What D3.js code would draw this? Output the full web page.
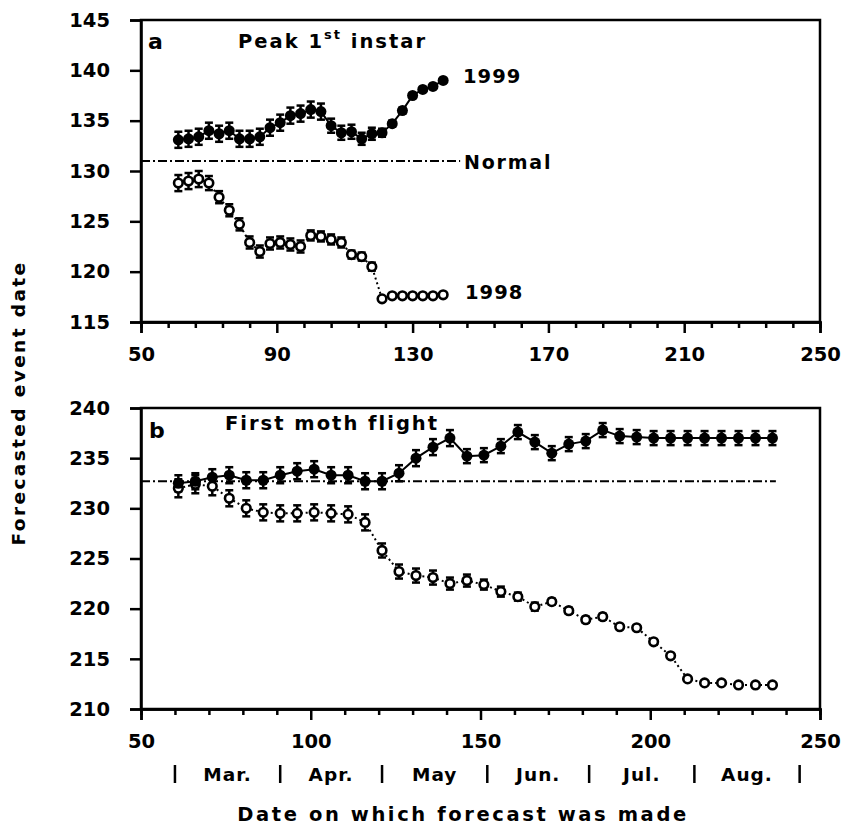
<!DOCTYPE html>
<html>
<head>
<meta charset="utf-8">
<script src="https://cdn.jsdelivr.net/npm/d3@7"></script>
<style>
  body { margin: 0; background: #fff; }
  svg text { font-family: "DejaVu Sans", sans-serif; font-weight: bold; fill: #000; }
</style>
</head>
<body>
<div id="chart"></div>
<script>

// forecast dates (day of year)
var daysA = [61, 64, 67, 70, 73, 76, 79, 82, 85, 88, 91, 94, 97, 100, 103, 106, 109, 112, 115, 118, 121, 124, 127, 130, 133, 136, 139];
var daysB = [61, 66, 71, 76, 81, 86, 91, 96, 101, 106, 111, 116, 121, 126, 131, 136, 141, 146, 151, 156, 161, 166, 171, 176, 181, 186, 191, 196, 201, 206, 211, 216, 221, 226, 231, 236];

// a: peak 1st instar
var peak1999 = [133.1, 133.2, 133.4, 134.0, 133.7, 134.0, 133.2, 133.2, 133.4, 134.3, 134.8, 135.5, 135.7, 136.1, 135.9, 134.5, 133.8, 133.9, 133.2, 133.7, 133.8, 134.7, 136.0, 137.5, 138.1, 138.4, 139.0];
var peak1999Err = [0.8, 0.8, 0.8, 0.8, 0.8, 0.8, 0.8, 0.8, 0.8, 0.8, 0.8, 0.8, 0.8, 0.8, 0.8, 0.7, 0.7, 0.7, 0.6, 0.6, 0.4, 0.3, 0.3, 0.2, 0.2, 0.2, 0.2];
var peak1998 = [128.8, 129.0, 129.2, 128.8, 127.4, 126.1, 124.7, 122.9, 122.0, 122.8, 122.9, 122.7, 122.5, 123.6, 123.5, 123.2, 122.9, 121.7, 121.5, 120.5, 117.3, 117.6, 117.6, 117.6, 117.6, 117.6, 117.7];
var peak1998Err = [0.8, 0.8, 0.8, 0.7, 0.6, 0.6, 0.6, 0.6, 0.6, 0.6, 0.6, 0.6, 0.6, 0.5, 0.5, 0.5, 0.5, 0.4, 0.4, 0.4, 0.2, 0.2, 0.2, 0.2, 0.2, 0.2, 0.2];
var peakNormal = 131.0;

// b: first moth flight
var flight1999 = [232.5, 232.7, 233.1, 233.3, 232.8, 232.8, 233.3, 233.7, 233.9, 233.3, 233.3, 232.7, 232.7, 233.5, 235.0, 236.1, 237.0, 235.2, 235.3, 236.2, 237.6, 236.6, 235.5, 236.4, 236.7, 237.8, 237.2, 237.1, 237.0, 237.0, 237.0, 237.0, 237.0, 237.0, 237.0, 237.0];
var flight1999Err = [0.8, 0.8, 0.8, 0.8, 0.8, 0.8, 0.8, 0.8, 0.8, 0.8, 0.8, 0.8, 0.8, 0.8, 0.8, 0.8, 0.8, 0.7, 0.7, 0.7, 0.7, 0.7, 0.7, 0.7, 0.7, 0.7, 0.7, 0.7, 0.7, 0.7, 0.7, 0.7, 0.7, 0.7, 0.7, 0.7];
var flight1998 = [232.0, 232.4, 232.2, 231.0, 230.0, 229.6, 229.5, 229.5, 229.6, 229.5, 229.4, 228.6, 225.8, 223.7, 223.3, 223.1, 222.5, 222.8, 222.4, 221.7, 221.2, 220.2, 220.7, 219.8, 218.9, 219.2, 218.2, 218.1, 216.7, 215.3, 213.0, 212.6, 212.6, 212.4, 212.4, 212.4];
var flight1998Err = [0.9, 0.9, 0.9, 0.8, 0.8, 0.8, 0.8, 0.8, 0.8, 0.8, 0.8, 0.8, 0.7, 0.7, 0.7, 0.7, 0.6, 0.6, 0.5, 0.5, 0.4, 0.4, 0.3, 0.3, 0.3, 0.3, 0.2, 0.2, 0.2, 0.2, 0.1, 0.1, 0.1, 0.1, 0.1, 0.1];
var flightNormal = 232.7;

// month boundaries along the lower axis
var monthStarts = [60, 91, 121, 152, 182, 213, 244];
var monthNames = ["Mar.", "Apr.", "May", "Jun.", "Jul.", "Aug."];

var width = 845, height = 827;

var svg = d3.select("#chart")
    .append("svg")
    .attr("width", width)
    .attr("height", height);

var x = d3.scaleLinear().domain([50, 250]).range([141, 820]);
var yA = d3.scaleLinear().domain([115, 145]).range([322, 20]);
var yB = d3.scaleLinear().domain([210, 240]).range([709, 408]);

function styleAxis(g) {
    g.select(".domain").attr("stroke-width", 2.5);
    g.selectAll(".tick line").attr("stroke-width", 2.5);
    g.selectAll("text").style("font-size", "19.5px");
}

function drawPanel(y, yTicks, majorX, minorX, normal, normalEnd, s99, e99, s98, e98, days) {

    var bottom = y.range()[0], top = y.range()[1];

    // frame
    svg.append("rect")
        .attr("x", x.range()[0])
        .attr("y", top)
        .attr("width", x.range()[1] - x.range()[0])
        .attr("height", bottom - top)
        .attr("fill", "none")
        .attr("stroke", "#000")
        .attr("stroke-width", 2.5);

    // minor x ticks
    svg.append("g")
        .attr("transform", "translate(0," + bottom + ")")
        .call(d3.axisBottom(x).tickValues(minorX).tickSize(6).tickFormat(""))
        .call(styleAxis);

    // major x ticks
    svg.append("g")
        .attr("transform", "translate(0," + bottom + ")")
        .call(d3.axisBottom(x).tickValues(majorX).tickSize(11).tickPadding(14).tickFormat(d3.format("d")))
        .call(styleAxis);

    svg.append("g")
        .attr("transform", "translate(" + x.range()[0] + ",0)")
        .call(d3.axisLeft(y).tickValues(yTicks).tickSize(11).tickPadding(20).tickFormat(d3.format("d")))
        .call(styleAxis);

    // normal line
    svg.append("line")
        .attr("x1", x(50))
        .attr("x2", x(normalEnd))
        .attr("y1", y(normal))
        .attr("y2", y(normal))
        .attr("stroke", "#000")
        .attr("stroke-width", 2)
        .attr("stroke-dasharray", "9,3,2,3");

    var d99 = days.map(function(d, i) { return { x: d, y: s99[i], e: e99[i] }; });
    var d98 = days.map(function(d, i) { return { x: d, y: s98[i], e: e98[i] }; });

    var line = d3.line()
        .x(function(d) { return x(d.x); })
        .y(function(d) { return y(d.y); });

    svg.append("path")
        .datum(d98)
        .attr("d", line)
        .attr("fill", "none")
        .attr("stroke", "#000")
        .attr("stroke-width", 2)
        .attr("stroke-dasharray", "2,3");

    svg.append("path")
        .datum(d99)
        .attr("d", line)
        .attr("fill", "none")
        .attr("stroke", "#000")
        .attr("stroke-width", 2);

    // error bars
    [d99, d98].forEach(function(data) {
        var eb = svg.append("g").selectAll("g")
            .data(data)
            .enter()
            .append("g")
            .attr("stroke", "#000")
            .attr("stroke-width", 2.5);
        eb.append("line")
            .attr("x1", function(d) { return x(d.x); })
            .attr("x2", function(d) { return x(d.x); })
            .attr("y1", function(d) { return y(d.y - d.e); })
            .attr("y2", function(d) { return y(d.y + d.e); });
        eb.append("line")
            .attr("x1", function(d) { return x(d.x) - 4; })
            .attr("x2", function(d) { return x(d.x) + 4; })
            .attr("y1", function(d) { return y(d.y + d.e); })
            .attr("y2", function(d) { return y(d.y + d.e); });
        eb.append("line")
            .attr("x1", function(d) { return x(d.x) - 4; })
            .attr("x2", function(d) { return x(d.x) + 4; })
            .attr("y1", function(d) { return y(d.y - d.e); })
            .attr("y2", function(d) { return y(d.y - d.e); });
    });

    svg.append("g").selectAll("circle")
        .data(d98)
        .enter()
        .append("circle")
        .attr("cx", function(d) { return x(d.x); })
        .attr("cy", function(d) { return y(d.y); })
        .attr("r", 4.3)
        .attr("fill", "#fff")
        .attr("stroke", "#000")
        .attr("stroke-width", 2.6);

    svg.append("g").selectAll("circle")
        .data(d99)
        .enter()
        .append("circle")
        .attr("cx", function(d) { return x(d.x); })
        .attr("cy", function(d) { return y(d.y); })
        .attr("r", 5.5)
        .attr("fill", "#000");
}

drawPanel(yA, [115, 120, 125, 130, 135, 140, 145],
    [50, 90, 130, 170, 210, 250],
    [58, 66, 74, 82, 98, 106, 114, 122, 138, 146, 154, 162, 178, 186, 194, 202, 218, 226, 234, 242],
    peakNormal, 144, peak1999, peak1999Err, peak1998, peak1998Err, daysA);

drawPanel(yB, [210, 215, 220, 225, 230, 235, 240],
    [50, 100, 150, 200, 250],
    [60, 70, 80, 90, 110, 120, 130, 140, 160, 170, 180, 190, 210, 220, 230, 240],
    flightNormal, 237, flight1999, flight1999Err, flight1998, flight1998Err, daysB);

// panel labels
svg.append("text").attr("x", 148).attr("y", 49).style("font-size", "22px").text("a");
var peakTitle = svg.append("text").attr("x", 238).attr("y", 48).style("font-size", "19.5px").style("letter-spacing", "2px");
peakTitle.append("tspan").text("Peak 1");
peakTitle.append("tspan").attr("dy", -9).style("font-size", "13px").text("st");
peakTitle.append("tspan").attr("dy", 9).text(" instar");

svg.append("text").attr("x", 463).attr("y", 83).style("font-size", "19.5px").style("letter-spacing", "1px").text("1999");
svg.append("text").attr("x", 464).attr("y", 169).style("font-size", "19px").style("letter-spacing", "1.8px").text("Normal");
svg.append("text").attr("x", 465).attr("y", 299).style("font-size", "19.5px").style("letter-spacing", "1px").text("1998");

svg.append("text").attr("x", 149).attr("y", 438).style("font-size", "22px").text("b");
svg.append("text").attr("x", 225).attr("y", 430).style("font-size", "19.5px").style("letter-spacing", "2px").text("First moth flight");

// month row
svg.append("g").selectAll("line")
    .data(monthStarts)
    .enter()
    .append("line")
    .attr("x1", function(d) { return x(d); })
    .attr("x2", function(d) { return x(d); })
    .attr("y1", 765)
    .attr("y2", 783)
    .attr("stroke", "#000")
    .attr("stroke-width", 2.5);

svg.append("g").selectAll("text")
    .data(monthNames)
    .enter()
    .append("text")
    .attr("x", function(d, i) { return (x(monthStarts[i]) + x(monthStarts[i + 1])) / 2; })
    .attr("y", 781)
    .attr("text-anchor", "middle")
    .style("font-size", "18.5px")
    .style("letter-spacing", "1px")
    .text(function(d) { return d; });

// axis titles
svg.append("text")
    .attr("x", 463)
    .attr("y", 821)
    .attr("text-anchor", "middle")
    .style("font-size", "19.5px")
    .style("letter-spacing", "2.6px")
    .text("Date on which forecast was made");

svg.append("text")
    .attr("transform", "translate(25,403) rotate(-90)")
    .attr("text-anchor", "middle")
    .style("font-size", "18.5px")
    .style("letter-spacing", "2.4px")
    .text("Forecasted event date");

</script>
</body>
</html>
